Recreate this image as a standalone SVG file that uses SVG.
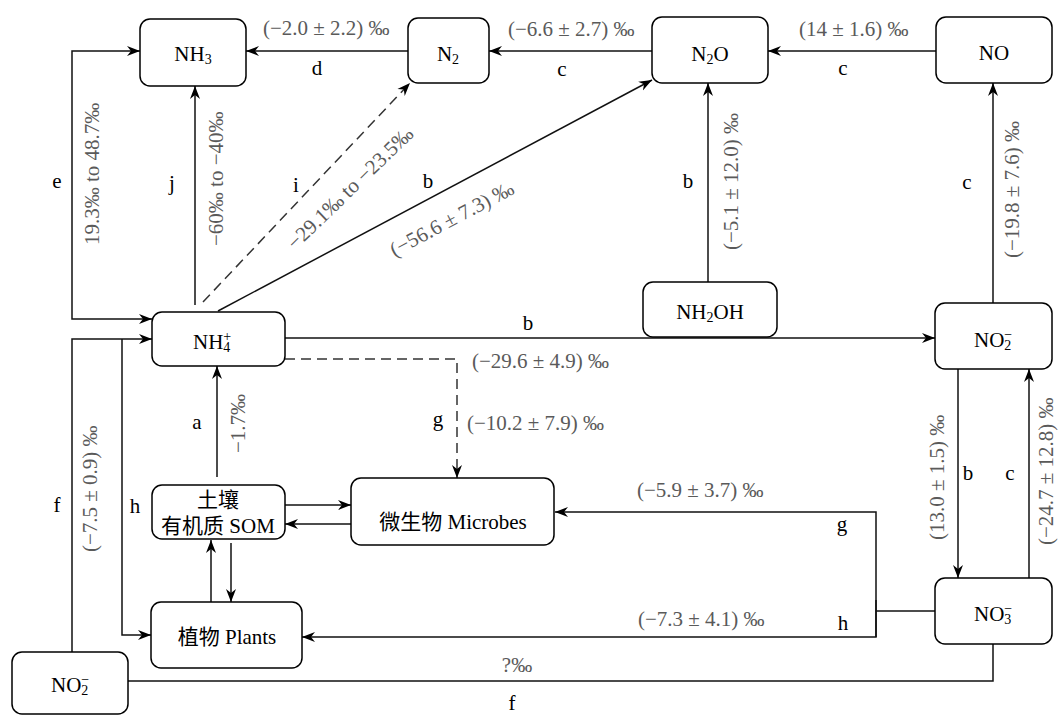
<svg xmlns="http://www.w3.org/2000/svg" width="1058" height="715" viewBox="0 0 1058 715">
<style>
text{font-family:"Liberation Serif","Noto Sans CJK SC",serif;font-size:21px;fill:#000}
.n{text-anchor:middle}
.g{fill:#5a5a5a}
.l{text-anchor:middle}
.box{fill:#fff;stroke:#000;stroke-width:1.5}
.e{fill:none;stroke:#111;stroke-width:1.5}
.d{stroke-dasharray:10 6;stroke:#333}
.a{marker-end:url(#ah)}
.s{marker-start:url(#ah)}
</style>
<defs>
<marker id="ah" markerUnits="userSpaceOnUse" markerWidth="14" markerHeight="11" refX="13" refY="5" orient="auto-start-reverse" viewBox="0 0 14 10">
<path d="M0,0 L13,5 L0,10 L4,5 z" fill="#000"/>
</marker>
</defs>
<rect width="1058" height="715" fill="#fff"/>
<g id="connectors">
<path class="e a s" d="M152,319 H72 V51 H140"/>
<path class="e a" d="M195,305 V86"/>
<path class="e d a" d="M203,302 L410,83"/>
<path class="e a" d="M218,311 L652,80"/>
<path class="e a" d="M708,282 V83"/>
<path class="e a" d="M993,303 V83"/>
<path class="e a" d="M408,51 H246"/>
<path class="e a" d="M652,51 H489"/>
<path class="e a" d="M936,51 H768"/>
<path class="e a" d="M285,338 H935"/>
<path class="e d a" d="M285,359 H457 V478"/>
<path class="e a" d="M285,505 H351"/>
<path class="e a" d="M351,524 H285"/>
<path class="e a" d="M217,477 V366"/>
<path class="e a" d="M211,602 V540"/>
<path class="e a" d="M231,543 V602"/>
<path class="e a" d="M72,652 V339 H152"/>
<path class="e a" d="M122,339 V635 H151"/>
<path class="e" d="M935,611 H876"/>
<path class="e a" d="M876,637 V512 H555"/>
<path class="e a" d="M876,600 V637 H302"/>
<path class="e" d="M993,644 V681 H128"/>
<path class="e a" d="M958,369 V578"/>
<path class="e a" d="M1029,578 V369"/>
</g>
<g id="labels">
<text class="g" x="263" y="35">(−2.0 ± 2.2) ‰</text>
<text class="l" x="317" y="75">d</text>
<text class="g" x="508" y="36">(−6.6 ± 2.7) ‰</text>
<text class="l" x="562" y="76">c</text>
<text class="g" x="799" y="36">(14 ± 1.6) ‰</text>
<text class="l" x="843" y="75">c</text>
<text class="l" x="57" y="188">e</text>
<text class="g" transform="translate(99,245) rotate(-90)">19.3‰ to 48.7‰</text>
<text class="l" x="172" y="190">j</text>
<text class="g" transform="translate(223,246) rotate(-90)">−60‰ to −40‰</text>
<text class="l" x="296" y="192">i</text>
<text class="g l" transform="translate(355,193) rotate(-44)">−29.1‰ to −23.5‰</text>
<text class="l" x="428" y="188">b</text>
<text class="g l" transform="translate(455,225) rotate(-28)">(−56.6 ± 7.3) ‰</text>
<text class="l" x="688" y="188">b</text>
<text class="g" transform="translate(738,250) rotate(-90)">(−5.1 ± 12.0) ‰</text>
<text class="l" x="967" y="189">c</text>
<text class="g" transform="translate(1019,258) rotate(-90)">(−19.8 ± 7.6) ‰</text>
<text class="l" x="528" y="330">b</text>
<text class="g" x="472" y="368">(−29.6 ± 4.9) ‰</text>
<text class="l" x="438" y="426">g</text>
<text class="g" x="467" y="430">(−10.2 ± 7.9) ‰</text>
<text class="l" x="197" y="429">a</text>
<text class="g" transform="translate(245,453) rotate(-90)">−1.7‰</text>
<text class="l" x="57" y="512">f</text>
<text class="g" transform="translate(97,552) rotate(-90)">(−7.5 ± 0.9) ‰</text>
<text class="l" x="135" y="513">h</text>
<text class="g" x="637" y="497">(−5.9 ± 3.7) ‰</text>
<text class="l" x="842" y="531">g</text>
<text class="g" x="638" y="626">(−7.3 ± 4.1) ‰</text>
<text class="l" x="843" y="630">h</text>
<text class="g l" x="517" y="672">?‰</text>
<text class="l" x="512" y="710">f</text>
<text class="g" transform="translate(944,540) rotate(-90)">(13.0 ± 1.5) ‰</text>
<text class="l" x="968" y="480">b</text>
<text class="l" x="1010" y="480">c</text>
<text class="g" transform="translate(1053,545) rotate(-90)">(−24.7 ± 12.8) ‰</text>
</g>
<g id="NH3"><rect class="box" x="140" y="19" width="106" height="67" rx="10"/><text class="n" x="193" y="61">NH<tspan font-size="14" dy="3">3</tspan></text></g>
<g id="N2"><rect class="box" x="408" y="18" width="81" height="65" rx="10"/><text class="n" x="448" y="61">N<tspan font-size="14" dy="3">2</tspan></text></g>
<g id="N2O"><rect class="box" x="652" y="17" width="116" height="66" rx="10"/><text class="n" x="710" y="61">N<tspan font-size="14" dy="3">2</tspan><tspan dy="-3">O</tspan></text></g>
<g id="NO"><rect class="box" x="936" y="17" width="116" height="66" rx="10"/><text class="n" x="994" y="60">NO</text></g>
<g id="NH4"><rect class="box" x="152" y="312" width="133" height="54" rx="10"/><text x="193" y="349">NH<tspan font-size="14" dy="-8">+</tspan><tspan font-size="14" dx="-8" dy="11">4</tspan></text></g>
<g id="NH2OH"><rect class="box" x="643" y="282" width="134" height="55" rx="10"/><text class="n" x="710" y="319">NH<tspan font-size="14" dy="3">2</tspan><tspan dy="-3">OH</tspan></text></g>
<g id="NO2R"><rect class="box" x="935" y="303" width="117" height="66" rx="10"/><text x="974" y="347">NO<tspan font-size="14" dy="-8">−</tspan><tspan font-size="14" dx="-8" dy="11">2</tspan></text></g>
<g id="SOM"><rect class="box" x="152" y="485" width="133" height="54" rx="10"/><text class="n" x="218" y="507">土壤</text><text class="n" x="218" y="533">有机质 SOM</text></g>
<g id="Microbes"><rect class="box" x="351" y="478" width="203" height="67" rx="10"/><text class="n" x="453" y="529">微生物 Microbes</text></g>
<g id="Plants"><rect class="box" x="151" y="602" width="151" height="66" rx="10"/><text class="n" x="227" y="644">植物 Plants</text></g>
<g id="NO3"><rect class="box" x="935" y="578" width="117" height="66" rx="10"/><text x="974" y="621">NO<tspan font-size="14" dy="-8">−</tspan><tspan font-size="14" dx="-8" dy="11">3</tspan></text></g>
<g id="NO2L"><rect class="box" x="12" y="652" width="116" height="62" rx="10"/><text x="51" y="692">NO<tspan font-size="14" dy="-8">−</tspan><tspan font-size="14" dx="-8" dy="11">2</tspan></text></g>
</svg>
